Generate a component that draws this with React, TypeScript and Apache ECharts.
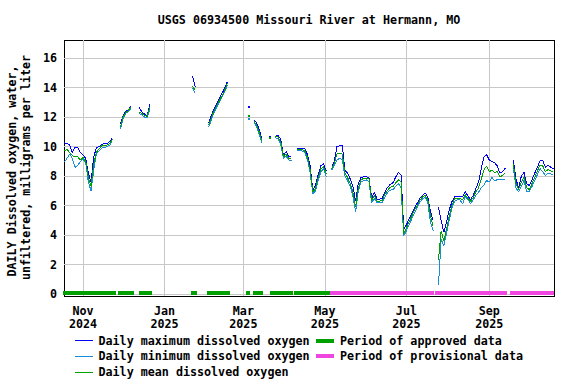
import React, { useEffect, useRef } from 'react';
import * as echarts from 'echarts';

const chartTitle = 'USGS 06934500 Missouri River at Hermann, MO';
const yTitleLines = ['DAILY Dissolved oxygen, water,', 'unfiltered, milligrams per liter'];

// daily values sampled every `dayStep` days starting at `firstDay`
const firstDay = '2024-10-18T00:00:00Z';
const dayStep = 2;

const maxDO: (number | null)[] = [
  10.25, 10.2, 10.1, 9.6, 9.95, 9.95, 9.6, 9.45, 9.2, 8.2,
  7.6, 9.3, 9.9, 10.0, 10.15, 10.2, 10.2, 10.35, 10.6, null,
  null, 11.5, 12.1, 12.4, 12.5, 12.75, null, null, 12.65, 12.35,
  12.2, 12.1, 12.85, null, null, null, null, null, null, null,
  null, null, null, null, null, null, null, null, 14.75, 14.05,
  null, null, null, null, 11.6, 12.1, 12.55, 12.9, 13.25, 13.6,
  13.95, 14.4, null, null, null, null, null, null, null, 12.65,
  null, 11.8, 11.6, 11.1, 10.5, null, null, 10.65, null, 10.8,
  10.75, 10.5, 9.4, 9.65, 9.35, 9.27, null, 9.9, 9.9, 9.88,
  9.85, 9.45, 8.7, 7.0, 7.4, 8.1, 8.7, 8.85, 8.35, null,
  8.65, 9.0, 10.0, 10.05, 10.1, 8.4, 8.2, 7.8, 7.3, 6.3,
  7.5, 7.9, 7.95, 7.95, 7.9, 6.5, 6.9, 6.45, 6.45, 6.5,
  6.95, 7.25, 7.45, 7.55, 7.95, 8.25, 8.1, 4.4, 4.7, 5.1,
  5.45, 5.85, 6.15, 6.5, 6.7, 6.85, 6.6, 5.6, 5.0, null,
  5.9, 5.0, 4.2, 4.9, 5.7, 6.25, 6.6, 6.65, 6.65, 6.6,
  6.95, 6.65, 6.4, 6.7, 7.15, 7.6, 8.5, 9.3, 9.45, 9.1,
  9.0, 8.9, 8.7, 8.2, 8.3, 8.55, null, null, 9.1, 7.8,
  7.2, 8.0, 8.25, 7.5, 7.35, 7.75, 8.2, 8.6, 9.05, 9.05,
  8.6, 8.75, 8.6, 8.5,
];

const minDO: (number | null)[] = [
  8.95, 9.2, 9.5, 9.2, 8.6, 8.7, 9.0, 9.15, 8.9, 7.6,
  7.0, 8.4, 9.5, 9.7, 9.9, 9.95, 10.0, 10.1, 10.4, null,
  null, 11.2, 11.9, 12.25, 12.4, 12.6, null, null, 12.25, 12.15,
  12.0, 11.95, 12.5, null, null, null, null, null, null, null,
  null, null, null, null, null, null, null, null, 13.95, 13.6,
  null, null, null, null, 11.3, 11.8, 12.3, 12.65, 13.0, 13.35,
  13.7, 14.15, null, null, null, null, null, null, null, 11.87,
  null, 11.65, 11.3, 10.8, 10.2, null, null, 10.55, null, 10.6,
  10.55, 10.1, 9.2, 9.35, 9.1, 9.05, null, 9.75, 9.75, 9.7,
  9.6, 9.1, 8.2, 6.8, 7.0, 7.7, 8.3, 8.5, 7.95, null,
  8.4, 8.7, 9.1, 9.2, 9.1, 8.0, 7.7, 7.3, 6.6, 5.6,
  7.0, 7.6, 7.7, 7.75, 7.6, 6.2, 6.5, 6.2, 6.2, 6.2,
  6.6, 6.9, 7.05, 7.1, 7.3, 7.5, 7.2, 3.95, 4.3, 4.7,
  5.1, 5.5, 5.85, 6.2, 6.45, 6.55, 6.2, 4.9, 4.3, null,
  0.65, 3.7, 3.3, 4.1, 5.0, 5.8, 6.3, 6.4, 6.4, 6.1,
  6.6, 6.4, 6.15, 6.4, 6.7, 6.9, 7.2, 7.4, 7.7, 7.6,
  7.9, 7.7, 7.75, 7.75, 7.8, 7.8, null, null, 8.6, 7.2,
  6.95, 7.3, 7.7, 6.95, 6.95, 7.3, 7.7, 8.1, 8.5, 8.3,
  8.05, 8.2, 8.15, 8.05,
];

const meanDO: (number | null)[] = [
  9.7, 9.8, 9.6, 9.4, 9.3, 9.3, 9.1, 9.25, 9.0, 7.9,
  7.3, 8.8, 9.6, 9.85, 10.05, 10.05, 10.1, 10.2, 10.5, null,
  null, 11.3, 12.0, 12.3, 12.45, 12.7, null, null, 12.35, 12.25,
  12.1, 12.05, 12.7, null, null, null, null, null, null, null,
  null, null, null, null, null, null, null, null, 14.1, 13.8,
  null, null, null, null, 11.45, 11.95, 12.4, 12.75, 13.1, 13.45,
  13.8, 14.3, null, null, null, null, null, null, null, 12.07,
  null, 11.7, 11.45, 10.95, 10.35, null, null, 10.6, null, 10.7,
  10.65, 10.3, 9.3, 9.5, 9.2, 9.15, null, 9.8, 9.8, 9.8,
  9.7, 9.25, 8.4, 6.9, 7.2, 7.9, 8.5, 8.65, 8.15, null,
  8.5, 8.85, 9.5, 9.55, 9.5, 8.2, 7.9, 7.5, 6.9, 5.9,
  7.2, 7.75, 7.85, 7.85, 7.8, 6.35, 6.7, 6.3, 6.3, 6.35,
  6.8, 7.05, 7.25, 7.3, 7.55, 7.75, 7.6, 4.1, 4.5, 4.9,
  5.3, 5.7, 6.0, 6.35, 6.6, 6.7, 6.4, 5.3, 4.6, null,
  2.3, 4.3, 3.6, 4.4, 5.3, 6.0, 6.45, 6.5, 6.5, 6.4,
  6.75, 6.5, 6.3, 6.55, 6.95, 7.2, 7.8, 8.4, 8.7, 8.3,
  8.4, 8.25, 8.3, 7.95, 8.05, 8.25, null, null, 8.8, 7.5,
  7.1, 7.6, 7.95, 7.2, 7.1, 7.5, 7.9, 8.35, 8.75, 8.7,
  8.3, 8.45, 8.35, 8.3,
];

const approvedPeriods: [string, string][] = [
  ['2024-10-17T00:00:00Z', '2024-11-25T12:00:00Z'],
  ['2024-11-27T00:00:00Z', '2024-12-09T00:00:00Z'],
  ['2024-12-12T18:00:00Z', '2024-12-22T12:00:00Z'],
  ['2025-01-20T12:00:00Z', '2025-01-25T00:00:00Z'],
  ['2025-02-01T12:00:00Z', '2025-02-18T18:00:00Z'],
  ['2025-03-02T18:00:00Z', '2025-03-05T18:00:00Z'],
  ['2025-03-08T00:00:00Z', '2025-03-15T12:00:00Z'],
  ['2025-03-20T18:00:00Z', '2025-04-07T00:00:00Z'],
  ['2025-04-07T18:00:00Z', '2025-05-04T18:00:00Z'],
];
const provisionalPeriods: [string, string][] = [
  ['2025-05-04T18:00:00Z', '2025-07-21T12:00:00Z'],
  ['2025-07-22T06:00:00Z', '2025-09-14T06:00:00Z'],
  ['2025-09-16T12:00:00Z', '2025-10-19T10:48:00Z'],
];

const xMin = '2024-10-17T18:30:00Z';
const xMax = '2025-10-19T10:48:00Z';
const xTickDates = ['2024-11-01T00:00:00Z', '2025-01-01T00:00:00Z', '2025-03-01T00:00:00Z', '2025-05-01T00:00:00Z', '2025-07-01T00:00:00Z', '2025-09-01T00:00:00Z'];
const monthNames = ['Jan', 'Feb', 'Mar', 'Apr', 'May', 'Jun', 'Jul', 'Aug', 'Sep', 'Oct', 'Nov', 'Dec'];
const yTicks = [0, 2, 4, 6, 8, 10, 12, 14, 16];
const yMin = -0.12;
const yMax = 17.22;

const legendLines = [
  { name: 'Daily maximum dissolved oxygen', color: '#0000ff' },
  { name: 'Daily minimum dissolved oxygen', color: '#1a8cd8' },
  { name: 'Daily mean dissolved oxygen', color: '#00a000' },
];
const legendBars = [
  { name: 'Period of approved data', color: '#00a000' },
  { name: 'Period of provisional data', color: '#f046e0' },
];

const FONT = '"DejaVu Sans Mono", "Liberation Mono", monospace';
const FS = 11.7;
const DAY = 86400000;

export default function App() {
  const ref = useRef<HTMLDivElement>(null);
  useEffect(() => {
    if (!ref.current) return;
    const chart = echarts.init(ref.current, null, { renderer: 'svg' });
    const t0 = Date.parse(firstDay);

    const toData = (arr: (number | null)[]) =>
      arr.map((v, i) => {
        const t = t0 + i * dayStep * DAY;
        if (v == null) return [t, '-'];
        const prevNull = i === 0 || arr[i - 1] == null;
        const nextNull = i === arr.length - 1 || arr[i + 1] == null;
        if (prevNull && nextNull) {
          return { value: [t, v], symbol: 'rect', symbolSize: 2 };
        }
        return [t, v];
      });

    const lineSeries = [maxDO, minDO, meanDO].map((arr, k) => ({
      type: 'line',
      name: legendLines[k].name,
      data: toData(arr),
      symbol: 'none',
      showSymbol: true,
      showAllSymbol: true,
      connectNulls: false,
      lineStyle: { color: legendLines[k].color, width: 1 },
      itemStyle: { color: legendLines[k].color },
      silent: true,
      z: 3,
    }));

    const periodSeries = [approvedPeriods, provisionalPeriods].map((periods, k) => ({
      type: 'custom',
      name: legendBars[k].name,
      clip: false,
      silent: true,
      z: 4,
      data: periods.map(([a, b]) => [Date.parse(a), Date.parse(b), 0]),
      encode: { x: [0, 1], y: 2 },
      renderItem: (params: any, api: any) => {
        const p1 = api.coord([api.value(0), 0]);
        const p2 = api.coord([api.value(1), 0]);
        return {
          type: 'rect',
          shape: { x: p1[0], y: p1[1] - 3, width: p2[0] - p1[0], height: 4 },
          style: { fill: legendBars[k].color },
        };
      },
    }));

    const textStyle = (text: string, x: number, y: number, align = 'left') => ({
      type: 'text',
      x,
      y,
      silent: true,
      style: {
        text,
        fill: '#000',
        font: `bold ${FS}px ${FONT}`,
        fontFamily: FONT,
        fontWeight: 'bold',
        fontSize: FS,
        align,
        textAlign: align,
        verticalAlign: 'middle',
        textVerticalAlign: 'middle',
      },
    });

    const legendRowsY = [340.5, 356.3, 372];
    const graphics: any[] = [];
    graphics.push(textStyle(chartTitle, 309, 20, 'center'));
    graphics.push({ ...textStyle(yTitleLines[0], 11.7, 171, 'center'), rotation: Math.PI / 2 });
    graphics.push({ ...textStyle(yTitleLines[1], 25.5, 167.5, 'center'), rotation: Math.PI / 2 });
    legendLines.forEach((l, i) => {
      graphics.push({
        type: 'line',
        silent: true,
        shape: { x1: 75, y1: legendRowsY[i], x2: 93, y2: legendRowsY[i] },
        style: { stroke: l.color, lineWidth: 1 },
      });
      graphics.push(textStyle(l.name, 98.5, legendRowsY[i]));
    });
    legendBars.forEach((b, i) => {
      graphics.push({
        type: 'rect',
        silent: true,
        shape: { x: 316, y: legendRowsY[i] - 2, width: 18, height: 4 },
        style: { fill: b.color },
      });
      graphics.push(textStyle(b.name, 340, legendRowsY[i]));
    });

    const xTicks = xTickDates.map((d) => Date.parse(d));

    chart.setOption({
      animation: false,
      backgroundColor: '#fff',
      grid: {
        left: 64,
        right: 22,
        top: 40,
        bottom: 88,
        show: true,
        borderColor: '#000',
        borderWidth: 1,
        backgroundColor: 'transparent',
      },
      xAxis: {
        type: 'value',
        min: Date.parse(xMin),
        max: Date.parse(xMax),
        axisLine: { show: false },
        axisTick: { show: false, customValues: xTicks },
        splitLine: { show: true, lineStyle: { color: '#c8c8c8', width: 1 } },
        axisLabel: {
          customValues: xTicks,
          margin: 9,
          color: '#000',
          fontFamily: FONT,
          fontWeight: 'bold',
          fontSize: FS,
          lineHeight: 12.5,
          formatter: (v: number) => {
            const d = new Date(v);
            return monthNames[d.getUTCMonth()] + '\n' + d.getUTCFullYear();
          },
        },
      },
      yAxis: {
        type: 'value',
        min: yMin,
        max: yMax,
        axisLine: { show: false },
        axisTick: { show: false, customValues: yTicks },
        splitLine: { show: true, lineStyle: { color: '#c8c8c8', width: 1 } },
        axisLabel: {
          customValues: yTicks,
          margin: 7,
          color: '#000',
          fontFamily: FONT,
          fontWeight: 'bold',
          fontSize: FS,
        },
      },
      series: [...lineSeries, ...periodSeries],
      graphic: graphics,
    });
    return () => chart.dispose();
  }, []);
  return (
    <>
      <style>{'.do-chart svg path { shape-rendering: crispEdges; }'}</style>
      <div className="do-chart" ref={ref} style={{ width: 576, height: 384, position: 'absolute', left: 0, top: 0 }} />
    </>
  );
}
